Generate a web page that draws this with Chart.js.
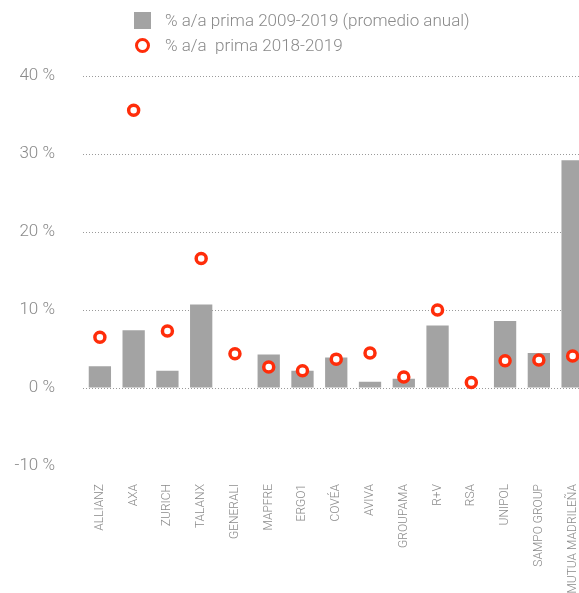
<!DOCTYPE html>
<html>
<head>
    <title>Primas a/a</title>
    <script src="https://cdn.jsdelivr.net/npm/chart.js"></script>
    <style>
        body { margin: 0; overflow: hidden; background: #fff; font-family: Roboto, sans-serif; }
        .wrap { position: relative; width: 598px; height: 593px; }
        .legend { position: absolute; left: 134px; top: 8px; color: #8a8a8a; font-size: 17px; font-weight: 300; }
        .legend div { height: 25px; line-height: 25px; display: flex; align-items: center; }
        .sq { width: 17px; height: 17px; background: #a3a3a3; margin-right: 14px; }
        .ci { width: 9px; height: 9px; border: 3.5px solid #ff2d0a; border-radius: 50%; margin: 0 15px 0 1px; background: #fff; }
    </style>
</head>
<body>
    <div class="wrap">
        <canvas id="chart" width="598" height="593"></canvas>
        <div class="legend">
            <div><span class="sq"></span>% a/a prima 2009-2019 (promedio anual)</div>
            <div><span class="ci"></span>% a/a&nbsp; prima 2018-2019</div>
        </div>
    </div>

    <script>
        // values
        const companies = ['ALLIANZ', 'AXA', 'ZURICH', 'TALANX', 'GENERALI', 'MAPFRE', 'ERGO1', 'COVÉA',
                           'AVIVA', 'GROUPAMA', 'R+V', 'RSA', 'UNIPOL', 'SAMPO GROUP', 'MUTUA MADRILEÑA'];
        const avg0919 = [2.8, 7.4, 2.2, 10.7, 0, 4.3, 2.2, 3.9, 0.8, 1.2, 8.0, 0, 8.6, 4.5, 29.2];
        const yoy1819 = [6.5, 35.6, 7.3, 16.6, 4.4, 2.7, 2.2, 3.7, 4.5, 1.4, 10.0, 0.7, 3.5, 3.6, 4.1];
        const yTicks = [-10, 0, 10, 20, 30, 40];

        const grey = '#8a8a8a';

        new Chart(document.getElementById('chart'), {
            data: {
                labels: companies,
                datasets: [
                    {
                        type: 'line',
                        label: '% a/a  prima 2018-2019',
                        data: yoy1819,
                        showLine: false,
                        pointRadius: 5,
                        pointBorderWidth: 3.5,
                        pointBorderColor: '#ff2d0a',
                        pointBackgroundColor: '#ffffff',
                        order: 0
                    },
                    {
                        type: 'bar',
                        label: '% a/a prima 2009-2019 (promedio anual)',
                        data: avg0919,
                        backgroundColor: '#a3a3a3',
                        barPercentage: 0.66,
                        categoryPercentage: 1,
                        order: 1
                    }
                ]
            },
            options: {
                responsive: false,
                animation: false,
                layout: { padding: { top: 76, left: 0, right: 0, bottom: 0 } },
                plugins: { legend: { display: false }, tooltip: { enabled: false } },
                scales: {
                    x: {
                        grid: { display: false },
                        border: { display: false },
                        afterFit: s => { s.height = 127; },
                        ticks: {
                            color: grey,
                            font: { family: 'Roboto', size: 12, weight: 300 },
                            minRotation: 90,
                            maxRotation: 90,
                            autoSkip: false,
                            padding: 10
                        }
                    },
                    y: {
                        min: -10,
                        max: 40,
                        afterFit: s => { s.width = 83; },
                        afterBuildTicks: s => { s.ticks = yTicks.map(v => ({ value: v })); },
                        border: { display: false, dash: [1, 2] },
                        grid: {
                            drawTicks: false,
                            color: c => c.tick && c.tick.value === -10 ? 'rgba(0,0,0,0)' : '#9a9a9a',
                            lineWidth: 1
                        },
                        ticks: {
                            color: grey,
                            font: { family: 'Roboto', size: 17, weight: 300 },
                            padding: 28,
                            callback: v => v + ' %'
                        }
                    }
                }
            }
        });
    </script>
</body>
</html>
